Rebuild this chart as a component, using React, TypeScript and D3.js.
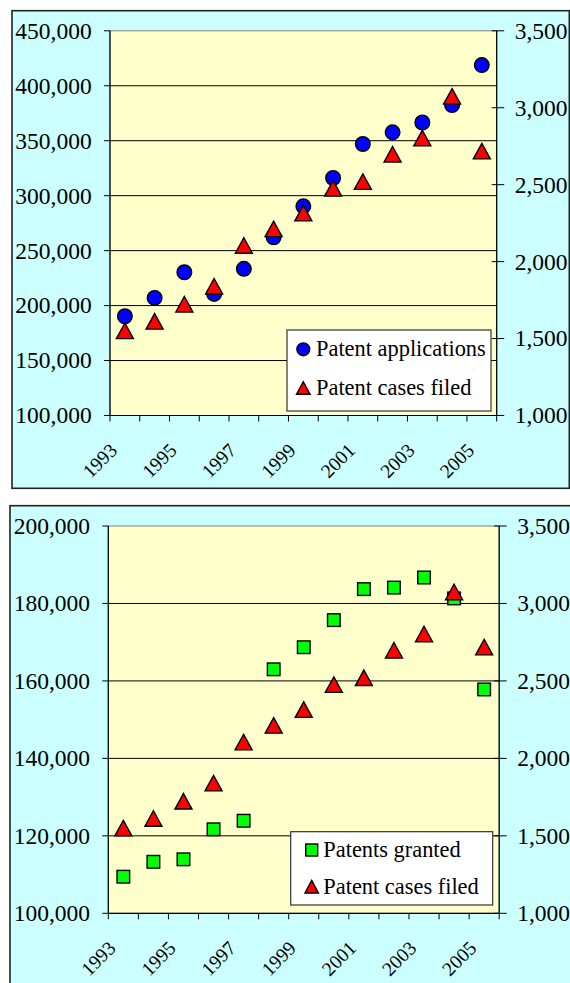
import React from 'react'
import * as d3 from 'd3'

const years = ['1993', '1994', '1995', '1996', '1997', '1998', '1999', '2000', '2001', '2002', '2003', '2004', '2005']
const applications = [190300, 207000, 230300, 210600, 233400, 262100, 290300, 316100, 347000, 357600, 366600, 382400, 418800]
const granted = [109450, 113300, 113940, 121690, 123900, 163000, 168700, 175700, 183700, 184100, 186700, 181300, 157800]
const casesFiled = [1550, 1612, 1723, 1840, 2105, 2213, 2315, 2476, 2520, 2698, 2803, 3074, 2718]
const rightTicks = [1000, 1500, 2000, 2500, 3000, 3500]
const topLeftTicks = [100000, 150000, 200000, 250000, 300000, 350000, 400000, 450000]
const bottomLeftTicks = [100000, 120000, 140000, 160000, 180000, 200000]
const topLegend = ['Patent applications', 'Patent cases filed']
const bottomLegend = ['Patents granted', 'Patent cases filed']

const FONT = '"Liberation Serif"'
const fmt = d3.format(',')

const trianglePath = (w: number, h: number) => {
  const p = d3.path()
  p.moveTo(0, -h / 2)
  p.lineTo(w / 2, h / 2)
  p.lineTo(-w / 2, h / 2)
  p.closePath()
  return p.toString()
}

// legend markers are drawn a little smaller than the plotted ones
function Marker ({ kind, x, y, small = false }: { kind: string, x: number, y: number, small?: boolean }) {
  if (kind === 'circle') {
    return <circle cx={x} cy={y} r={small ? 6.4 : 7.3} fill='#0000ff' stroke='#000' strokeWidth={1.4} />
  }
  if (kind === 'square') {
    const a = small ? 12 : 12.6
    return <rect x={x - a / 2} y={y - a / 2} width={a} height={a} fill='#00ff00' stroke='#000' strokeWidth={1.4} />
  }
  const w = small ? 13.5 : 17
  const h = small ? 12.5 : 15.5
  return <path transform={`translate(${x},${y})`} d={trianglePath(w, h)} fill='#ff0000' stroke='#000' strokeWidth={1.4} />
}

function Panel (props: any) {
  const { frame, plot, leftTicks, leftValues, leftKind, legendLabels, legend } = props
  const xScale = d3.scaleBand().domain(years).range([plot.x0, plot.x1]).paddingInner(0).paddingOuter(0)
  const yLeft = d3.scaleLinear().domain([leftTicks[0], leftTicks[leftTicks.length - 1]]).range([plot.y1, plot.y0])
  const yRight = d3.scaleLinear().domain([rightTicks[0], rightTicks[rightTicks.length - 1]]).range([plot.y1, plot.y0])
  const bw = xScale.bandwidth()
  const cx = (d: string) => (xScale(d) as number) + bw / 2
  const tickXs = years.map(d => xScale(d) as number).concat([plot.x1])
  return <g>
    <rect x={frame.x} y={frame.y} width={frame.w} height={frame.h} fill='#ccffff' stroke='#222' strokeWidth={1.6} />
    <rect x={plot.x0} y={plot.y0} width={plot.x1 - plot.x0} height={plot.y1 - plot.y0} fill='#ffffcc' stroke='#808080' strokeWidth={1} />
    {/* gridlines */}
    {leftTicks.slice(1, -1).map((v: number, i: number) =>
      <line key={i} x1={plot.x0} x2={plot.x1} y1={yLeft(v)} y2={yLeft(v)} stroke='#000' strokeWidth={1} />
    )}
    {/* left axis */}
    <line x1={plot.x0} x2={plot.x0} y1={plot.y0} y2={plot.y1} stroke='#000' strokeWidth={1.2} />
    {leftTicks.map((v: number, i: number) =>
      <g key={i} transform={`translate(${plot.x0},${yLeft(v)})`}>
        <line x1={-6} x2={0} y1={0} y2={0} stroke='#000' />
        <text x={-18.3} y={7.9} textAnchor='end' style={{ fontFamily: FONT, fontSize: 23.5 }} fill='#000'>{fmt(v)}</text>
      </g>
    )}
    {/* right axis */}
    <line x1={plot.x1} x2={plot.x1} y1={plot.y0} y2={plot.y1} stroke='#000' strokeWidth={1.2} />
    {rightTicks.map((v, i) =>
      <g key={i} transform={`translate(${plot.x1},${yRight(v)})`}>
        <line x1={-5} x2={7.5} y1={0} y2={0} stroke='#000' />
        <text x={18} y={7.9} textAnchor='start' style={{ fontFamily: FONT, fontSize: 23.5 }} fill='#000'>{fmt(v)}</text>
      </g>
    )}
    {/* x axis */}
    <line x1={plot.x0} x2={plot.x1} y1={plot.y1} y2={plot.y1} stroke='#000' strokeWidth={1.2} />
    {tickXs.map((x, i) =>
      <line key={i} x1={x} x2={x} y1={plot.y1} y2={plot.y1 + 6} stroke='#000' />
    )}
    {years.filter((d, i) => i % 2 === 0).map(d =>
      <text key={d} transform={`translate(${cx(d) - 6.5},${plot.y1 + 36}) rotate(-45)`} textAnchor='end' style={{ fontFamily: FONT, fontSize: 19.5 }} fill='#000'>{d}</text>
    )}
    {/* series */}
    {leftValues.map((v: number, i: number) =>
      <Marker key={'l' + i} kind={leftKind} x={cx(years[i])} y={yLeft(v)} />
    )}
    {casesFiled.map((v, i) =>
      <Marker key={'r' + i} kind='triangle' x={cx(years[i])} y={yRight(v)} />
    )}
    {/* legend */}
    <rect x={legend.x} y={legend.y} width={legend.w} height={legend.h} fill='#fff' stroke='#333' strokeWidth={1.2} />
    {legendLabels.map((t: string, i: number) => {
      const my = legend.y + legend.first + i * legend.step
      return <g key={t}>
        <Marker kind={i === 0 ? leftKind : 'triangle'} x={legend.x + legend.mx} y={my} small />
        <text x={legend.x + legend.tx} y={my + 7} style={{ fontFamily: FONT, fontSize: 22.4 }} fill='#000'>{t}</text>
      </g>
    })}
  </g>
}

export default function App () {
  return <svg width={570} height={983} style={{ position: 'absolute', left: 0, top: 0 }}>
    <Panel
      frame={{ x: 12, y: 10.7, w: 557.3, h: 477.6 }}
      plot={{ x0: 110, x1: 496.7, y0: 30.8, y1: 415.5 }}
      leftTicks={topLeftTicks}
      leftValues={applications}
      leftKind='circle'
      legendLabels={topLegend}
      legend={{ x: 287, y: 330, w: 204, h: 81, mx: 16.3, tx: 29, first: 19.3, step: 38.7 }}
    />
    <Panel
      frame={{ x: 10, y: 505.7, w: 570, h: 500 }}
      plot={{ x0: 108.3, x1: 499.2, y0: 526, y1: 913.3 }}
      leftTicks={bottomLeftTicks}
      leftValues={granted}
      leftKind='square'
      legendLabels={bottomLegend}
      legend={{ x: 290.7, y: 831.7, w: 202, h: 73.3, mx: 21, tx: 32.6, first: 18.3, step: 36.7 }}
    />
  </svg>
}
